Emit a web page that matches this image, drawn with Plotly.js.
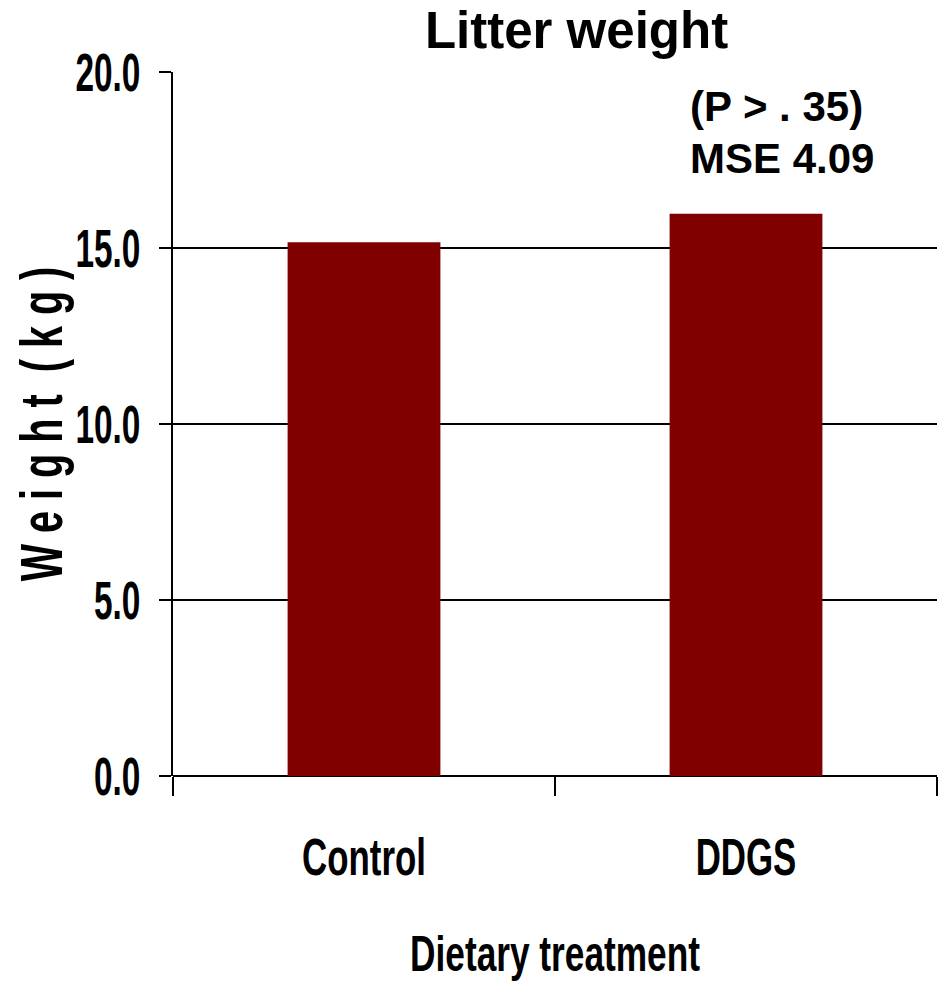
<!DOCTYPE html>
<html>
<head>
<meta charset="utf-8">
<script src="https://cdn.plot.ly/plotly-3.0.1.min.js"></script>
<style>html,body{margin:0;padding:0;background:#fff;}#chart{width:939px;height:984px;}</style>
</head>
<body>
<div id="chart"></div>
<script>
const categories = ["Control", "DDGS"];
const weights = [15.16, 15.97];
const yTickValues = [0, 5, 10, 15, 20];
const yTickLabels = ["0.0", "5.0", "10.0", "15.0", "20.0"];
const chartTitle = "Litter weight";
const xTitle = "Dietary treatment";
const yTitle = "W e i g h t  ( k g )";
const noteLines = ["(P > . 35)", "MSE 4.09"];

const font = "'Liberation Sans', Arial, sans-serif";

const trace = {
  type: "bar",
  x: categories,
  y: weights,
  marker: {color: "#800000", line: {width: 0}},
  width: 0.4,
  hoverinfo: "x+y"
};

const layout = {
  width: 939, height: 984,
  margin: {l: 173, r: 2, t: 72, b: 208},
  paper_bgcolor: "#ffffff",
  plot_bgcolor: "#ffffff",
  showlegend: false,
  title: {
    text: chartTitle,
    font: {family: font, size: 51, color: "#000", weight: "bold"},
    xref: "container", x: 0.614, xanchor: "center",
    yref: "container", y: 1 - 30/984, yanchor: "middle"
  },
  xaxis: {
    type: "category",
    range: [-0.5, 1.5],
    tickson: "boundaries",
    ticks: "outside", ticklen: 19, tickwidth: 2, tickcolor: "#000",
    showline: false,
    showgrid: false,
    zeroline: false,
    tickfont: {family: font, size: 52, color: "#000", weight: "bold"},
    ticklabelstandoff: 46,
    title: {text: xTitle, font: {family: font, size: 50, color: "#000", weight: "bold"}, standoff: 50}
  },
  yaxis: {
    range: [0, 20],
    autorange: false,
    tickvals: yTickValues,
    ticktext: yTickLabels,
    ticks: "outside", ticklen: 12, tickwidth: 2, tickcolor: "#000",
    showline: true, linecolor: "#000", linewidth: 2,
    showgrid: true, gridcolor: "#000", gridwidth: 2,
    zeroline: true, zerolinecolor: "#000", zerolinewidth: 2,
    tickfont: {family: font, size: 53, color: "#000", weight: "bold"},
    ticklabelstandoff: 8,
    title: {text: yTitle, font: {family: font, size: 60, color: "#000", weight: "bold"}, standoff: 0}
  },
  annotations: [
    {text: noteLines[0], xref: "paper", yref: "paper", x: (688-173)/764, y: 1 - (107-72)/704,
     xanchor: "left", yanchor: "middle", showarrow: false,
     font: {family: font, size: 42, color: "#000", weight: "bold"}},
    {text: noteLines[1], xref: "paper", yref: "paper", x: (688-173)/764, y: 1 - (159-72)/704,
     xanchor: "left", yanchor: "middle", showarrow: false,
     font: {family: font, size: 42, color: "#000", weight: "bold"}}
  ]
};

function condense(selector, factor) {
  document.querySelectorAll(selector).forEach(function (t) {
    const len = t.getComputedTextLength();
    if (len > 0) {
      t.setAttribute("textLength", (len * factor).toFixed(1));
      t.setAttribute("lengthAdjust", "spacingAndGlyphs");
    }
  });
}

// move the rotated y-axis title to anchor position anchorX (page px)
function placeYTitle(anchorX) {
  const t = document.querySelector("#chart .g-ytitle text");
  if (!t) return;
  const y = parseFloat(t.getAttribute("y")) || 0;
  t.setAttribute("x", anchorX);
  t.setAttribute("transform", "rotate(-90," + anchorX + "," + y + ")");
}

Plotly.newPlot("chart", [trace], layout, {displayModeBar: false, staticPlot: true}).then(function () {
  condense("#chart .ytick text", 0.63);
  condense("#chart .xtick text", 0.67);
  condense("#chart .g-xtitle text", 0.705);
  condense("#chart .g-ytitle text", 0.66);
  placeYTitle(25);
});
</script>
</body>
</html>
